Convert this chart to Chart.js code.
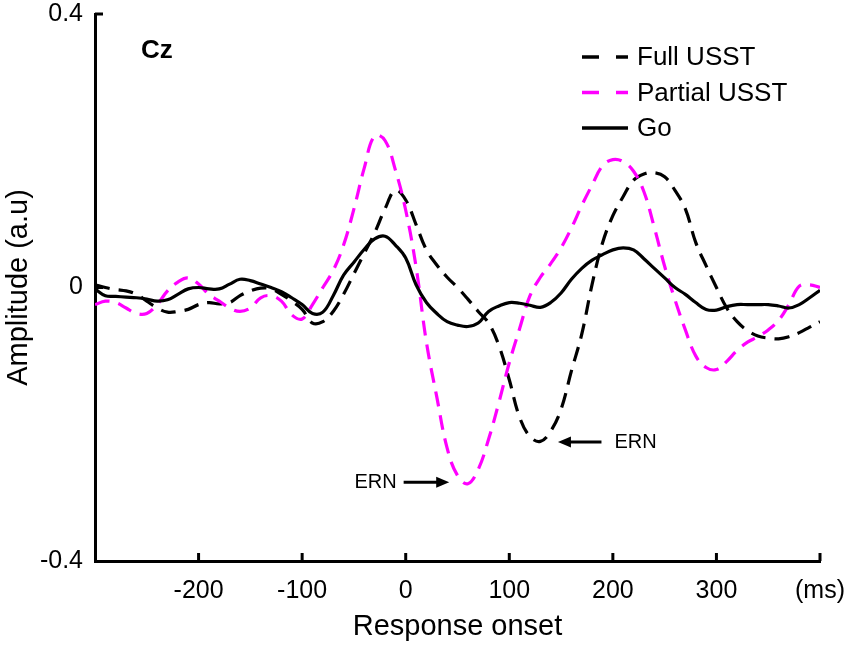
<!DOCTYPE html>
<html lang="en">
<head>
  <meta charset="UTF-8" />
  <title>Cz - response locked ERP</title>
  <script src="https://cdn.jsdelivr.net/npm/chart.js"></script>
  <style>
    html, body { margin: 0; padding: 0; background: #fff; }
    #wrap { width: 850px; height: 646px; position: relative; }
  </style>
</head>
<body>
  <div id="wrap"><canvas id="erpChart"></canvas></div>

  <script>
    // time axis (ms, relative to response onset)
    const times = [
      -300, -290, -280, -270, -260, -250, -240, -230, -220, -210,
      -200, -190, -180, -170, -160, -150, -140, -130, -120, -110,
      -100, -90, -80, -70, -60, -50, -40, -30, -20, -10,
      0, 10, 20, 30, 40, 50, 60, 70, 80, 90,
      100, 110, 120, 130, 140, 150, 160, 170, 180, 190,
      200, 210, 220, 230, 240, 250, 260, 270, 280, 290,
      300, 310, 320, 330, 340, 350, 360, 370, 380, 390,
      400
    ];

    const fullUSST = [
      0.004, 0.000, -0.003, -0.005, -0.010, -0.020, -0.030, -0.036, -0.035, -0.032,
      -0.025, -0.022, -0.024, -0.022, -0.012, -0.005, -0.001, -0.002, -0.010, -0.020,
      -0.032, -0.052, -0.050, -0.035, -0.010, 0.020, 0.050, 0.080, 0.115, 0.142,
      0.128, 0.092, 0.055, 0.033, 0.015, 0.000, -0.017, -0.035, -0.052, -0.085,
      -0.135, -0.190, -0.218, -0.225, -0.210, -0.178, -0.122, -0.068, 0.005, 0.065,
      0.105, 0.133, 0.157, 0.166, 0.168, 0.162, 0.142, 0.115, 0.066, 0.032,
      0.000, -0.030, -0.050, -0.063, -0.071, -0.074, -0.075, -0.072, -0.066, -0.058,
      -0.050
    ];

    const partialUSST = [
      -0.025, -0.020, -0.022, -0.030, -0.038, -0.038, -0.025, -0.005, 0.008, 0.014,
      0.005, -0.010, -0.020, -0.030, -0.035, -0.030, -0.015, -0.012, -0.020, -0.040,
      -0.046, -0.025, 0.000, 0.025, 0.062, 0.115, 0.175, 0.222, 0.215, 0.172,
      0.113, 0.030, -0.080, -0.160, -0.235, -0.275, -0.287, -0.266, -0.222, -0.168,
      -0.110, -0.060, -0.012, 0.015, 0.035, 0.058, 0.087, 0.120, 0.150, 0.178,
      0.187, 0.184, 0.170, 0.140, 0.088, 0.031, -0.018, -0.062, -0.100, -0.117,
      -0.120, -0.108, -0.092, -0.080, -0.072, -0.062, -0.048, -0.025, 0.002, 0.004,
      0.000
    ];

    const goTrials = [
      -0.002, -0.012, -0.013, -0.014, -0.015, -0.017, -0.020, -0.018, -0.010, -0.002,
      0.000, -0.002, -0.002, 0.005, 0.012, 0.010, 0.005, 0.000, -0.006, -0.015,
      -0.025, -0.038, -0.036, -0.012, 0.018, 0.037, 0.056, 0.071, 0.075, 0.062,
      0.043, 0.004, -0.022, -0.038, -0.050, -0.055, -0.057, -0.052, -0.035, -0.027,
      -0.022, -0.023, -0.026, -0.029, -0.022, -0.008, 0.012, 0.028, 0.040, 0.048,
      0.055, 0.058, 0.055, 0.042, 0.028, 0.014, 0.000, -0.010, -0.022, -0.032,
      -0.033, -0.028, -0.025, -0.025, -0.025, -0.025, -0.027, -0.030, -0.025, -0.015,
      -0.004
    ];

    const xTicks = [-300, -200, -100, 0, 100, 200, 300, 400];
    const yTicks = [-0.4, 0, 0.4];

    // ERN arrows, in data units
    const ernNotes = [
      { label: 'ERN', tailX: -2, tipX: 42, y: -0.285 },
      { label: 'ERN', tailX: 189, tipX: 147, y: -0.226 }
    ];

    const FONT = '"Liberation Sans", Arial, Helvetica, sans-serif';
    Chart.defaults.font.family = FONT;
    Chart.defaults.color = '#000';

    const toPoints = vals => times.map((t, i) => ({ x: t, y: vals[i] }));

    // inward tick marks on both axes
    const inwardTicks = {
      id: 'inwardTicks',
      beforeDatasetsDraw(chart) {
        const { ctx, chartArea, scales: { x, y } } = chart;
        ctx.save();
        ctx.strokeStyle = '#000';
        ctx.lineWidth = 3;
        x.ticks.forEach(t => {
          if (t.value === x.min) return;
          const px = x.getPixelForValue(t.value);
          ctx.beginPath();
          ctx.moveTo(px, chartArea.bottom);
          ctx.lineTo(px, chartArea.bottom - 8);
          ctx.stroke();
        });
        y.ticks.forEach(t => {
          if (t.value === y.min) return;
          const py = y.getPixelForValue(t.value);
          ctx.beginPath();
          ctx.moveTo(chartArea.left, py);
          ctx.lineTo(chartArea.left + 8, py);
          ctx.stroke();
        });
        ctx.restore();
      }
    };

    // legend, panel label and ERN arrows
    const overlay = {
      id: 'overlay',
      afterDatasetsDraw(chart) {
        const { ctx, chartArea, scales: { x, y } } = chart;
        ctx.save();

        // legend box (top right, inside the axes)
        const lx = chartArea.right - 238, ly = chartArea.top + 43, rowH = 35.5;
        chart.data.datasets.forEach((ds, i) => {
          const yy = ly + i * rowH;
          ctx.strokeStyle = ds.borderColor;
          ctx.lineWidth = 3.5;
          ctx.setLineDash(ds.borderDash && ds.borderDash.length ? [17, 17] : []);
          ctx.beginPath();
          ctx.moveTo(lx, yy);
          ctx.lineTo(lx + 46, yy);
          ctx.stroke();
          ctx.setLineDash([]);
          ctx.fillStyle = '#000';
          ctx.font = '26px ' + FONT;
          ctx.textAlign = 'left';
          ctx.textBaseline = 'middle';
          ctx.fillText(ds.label, lx + 55, yy + 1);
        });

        // panel label
        ctx.font = 'bold 26px ' + FONT;
        ctx.textAlign = 'left';
        ctx.textBaseline = 'middle';
        ctx.fillText('Cz', chartArea.left + 46, chartArea.top + 37);

        // ERN arrows
        ernNotes.forEach(n => {
          const tail = x.getPixelForValue(n.tailX);
          const tip = x.getPixelForValue(n.tipX);
          const py = y.getPixelForValue(n.y);
          const dir = Math.sign(tip - tail);
          ctx.strokeStyle = '#000';
          ctx.lineWidth = 3;
          ctx.beginPath();
          ctx.moveTo(tail, py);
          ctx.lineTo(tip - dir * 8, py);
          ctx.stroke();
          ctx.beginPath();
          ctx.moveTo(tip, py);
          ctx.lineTo(tip - dir * 13, py - 5.5);
          ctx.lineTo(tip - dir * 13, py + 5.5);
          ctx.closePath();
          ctx.fill();
          ctx.font = '20px ' + FONT;
          ctx.textBaseline = 'middle';
          if (dir > 0) {
            ctx.textAlign = 'right';
            ctx.fillText(n.label, tail - 7, py);
          } else {
            ctx.textAlign = 'left';
            ctx.fillText(n.label, tail + 13, py);
          }
        });

        ctx.restore();
      }
    };

    new Chart(document.getElementById('erpChart'), {
      type: 'line',
      data: {
        datasets: [
          {
            label: 'Full USST',
            data: toPoints(fullUSST),
            borderColor: '#000000',
            borderWidth: 3.2,
            borderDash: [15, 9],
            pointRadius: 0,
            tension: 0.4,
            order: 2
          },
          {
            label: 'Partial USST',
            data: toPoints(partialUSST),
            borderColor: '#ff00ff',
            borderWidth: 3.2,
            borderDash: [15, 9],
            pointRadius: 0,
            tension: 0.4,
            order: 1
          },
          {
            label: 'Go',
            data: toPoints(goTrials),
            borderColor: '#000000',
            borderWidth: 3.2,
            borderDash: [],
            pointRadius: 0,
            tension: 0.4,
            order: 0
          }
        ]
      },
      options: {
        responsive: true,
        maintainAspectRatio: false,
        animation: false,
        layout: { padding: { top: 14, right: 30, bottom: 0, left: 0 } },
        plugins: {
          legend: { display: false },
          tooltip: { enabled: false }
        },
        scales: {
          x: {
            type: 'linear',
            min: xTicks[0],
            max: xTicks[xTicks.length - 1],
            afterBuildTicks: s => { s.ticks = xTicks.map(v => ({ value: v })); },
            afterFit: s => { s.height = 85; s.paddingLeft = 0; s.paddingRight = 0; },
            grid: { display: false, drawTicks: false },
            border: { display: true, color: '#000', width: 3 },
            ticks: {
              padding: 15,
              maxRotation: 0,
              autoSkip: false,
              color: '#000',
              font: { size: 25 },
              callback: v => v === -300 ? '' : (v === 400 ? '(ms)' : String(v))
            },
            title: {
              display: true,
              text: 'Response onset',
              color: '#000',
              font: { size: 29 },
              padding: { top: 0, bottom: 2 }
            }
          },
          y: {
            min: yTicks[0],
            max: yTicks[yTicks.length - 1],
            afterBuildTicks: s => { s.ticks = yTicks.map(v => ({ value: v })); },
            afterFit: s => { s.width = 95; s.paddingTop = 0; s.paddingBottom = 0; },
            grid: { display: false, drawTicks: false },
            border: { display: true, color: '#000', width: 3 },
            ticks: {
              padding: 12,
              color: '#000',
              font: { size: 25 },
              callback: v => v === 0 ? '0' : v.toFixed(1)
            },
            title: {
              display: true,
              text: 'Amplitude (a.u)',
              color: '#000',
              font: { size: 29 },
              padding: { top: 2, bottom: 0 }
            }
          }
        }
      },
      plugins: [inwardTicks, overlay]
    });
  </script>
</body>
</html>
